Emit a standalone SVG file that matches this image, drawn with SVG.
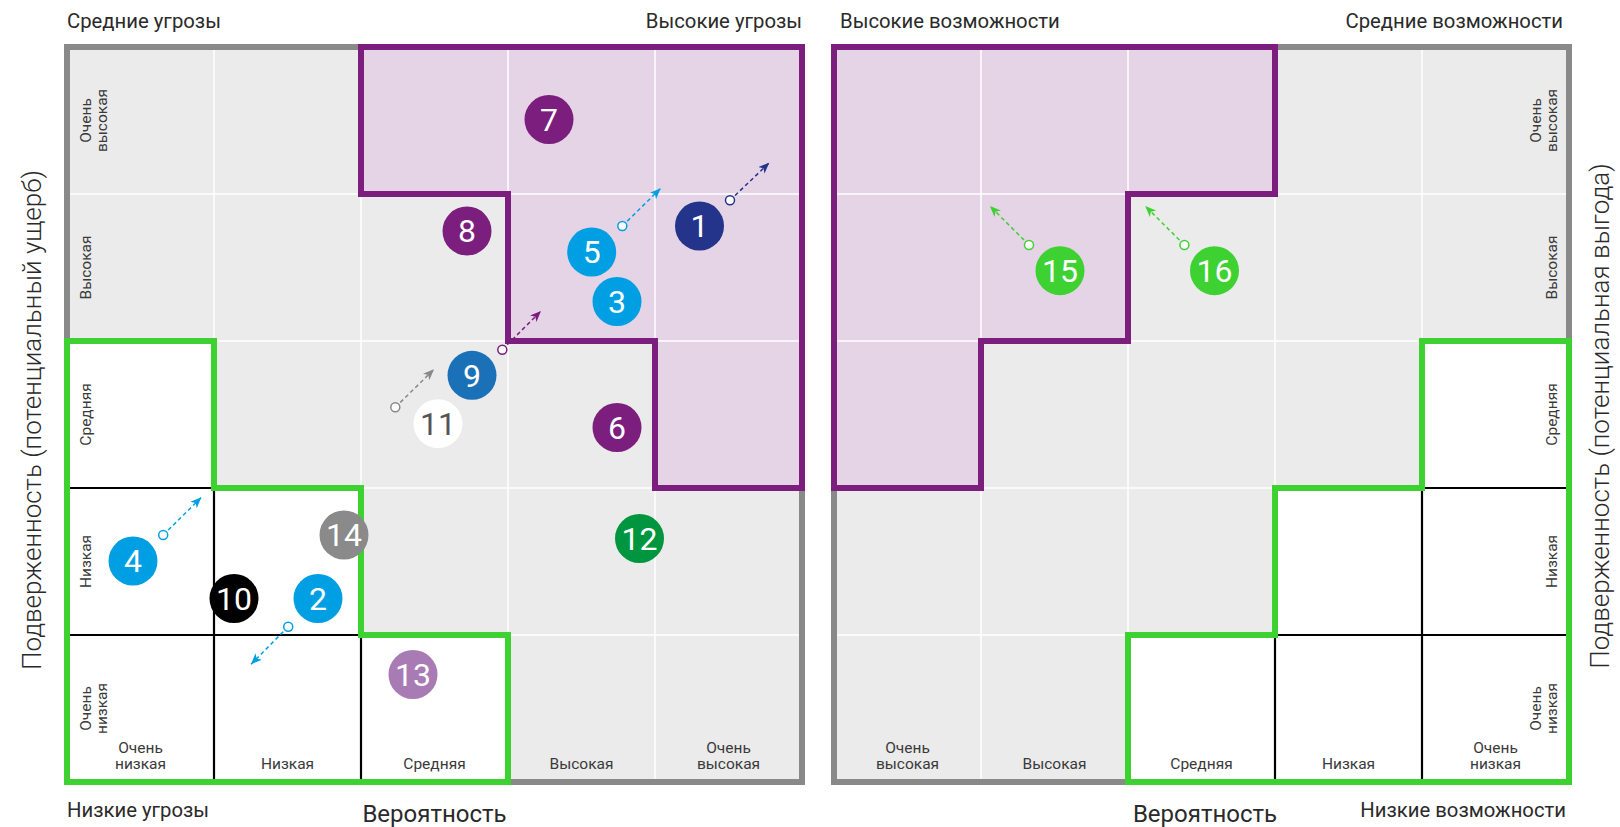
<svg xmlns="http://www.w3.org/2000/svg" width="1620" height="827" viewBox="0 0 1620 827">
<style>
text{font-family:Roboto,"Liberation Sans",sans-serif}
.cell{font-size:15.5px;fill:#3a3a3a}
.mid{text-anchor:middle}
.end{text-anchor:end}
.corner{font-size:20.3px;fill:#2a2a2a}
.axis{font-size:24px;fill:#2a2a2a}
.vaxis{font-size:26px;fill:#2a2a2a;font-weight:300}
.bg{fill:#ebebeb}
.pfill{fill:#e5d3e6}
.wl{stroke:#ffffff;stroke-width:1.5;fill:none}
.bl{stroke:#000;stroke-width:2.2;fill:none}
.gb{fill:none;stroke:#898989;stroke-width:6}
.pb{fill:none;stroke:#7b1e7e;stroke-width:6}
.grb{fill:none;stroke:#3ed132;stroke-width:6}
.num{font-size:32px;fill:#fff;text-anchor:middle}
.dash{stroke-width:1.5;stroke-dasharray:4 3;fill:none}
.oc{fill:#fff;stroke-width:1.5}
</style>
<defs>
<marker id="aCyan" markerWidth="12" markerHeight="10" refX="11" refY="4.5" orient="auto" markerUnits="userSpaceOnUse"><path d="M0,0 L11,4.5 L0,9 L3,4.5 Z" fill="#009fe3"/></marker>
<marker id="aNavy" markerWidth="12" markerHeight="10" refX="11" refY="4.5" orient="auto" markerUnits="userSpaceOnUse"><path d="M0,0 L11,4.5 L0,9 L3,4.5 Z" fill="#24348a"/></marker>
<marker id="aPurple" markerWidth="12" markerHeight="10" refX="11" refY="4.5" orient="auto" markerUnits="userSpaceOnUse"><path d="M0,0 L11,4.5 L0,9 L3,4.5 Z" fill="#7b1e7e"/></marker>
<marker id="aGray" markerWidth="12" markerHeight="10" refX="11" refY="4.5" orient="auto" markerUnits="userSpaceOnUse"><path d="M0,0 L11,4.5 L0,9 L3,4.5 Z" fill="#888888"/></marker>
<marker id="aGreen" markerWidth="12" markerHeight="10" refX="11" refY="4.5" orient="auto" markerUnits="userSpaceOnUse"><path d="M0,0 L11,4.5 L0,9 L3,4.5 Z" fill="#3ed132"/></marker>
</defs>
<rect width="1620" height="827" fill="#ffffff"/>

<!-- LEFT GRID -->
<g id="grid-threats">
<rect class="bg" x="67" y="47" width="735" height="735"/>
<polygon class="pfill" points="361,47 802,47 802,488 655,488 655,341 508,341 508,194 361,194"/>
<path class="wl" d="M214,47V782M361,47V782M508,47V782M655,47V782M67,194H802M67,341H802M67,488H802M67,635H802"/>
<polygon fill="#ffffff" points="67,341 214,341 214,488 361,488 361,635 508,635 508,782 67,782"/>
<path class="bl" d="M67,488H214M67,635H361M214,488V782M361,635V782"/>
<rect class="gb" x="67" y="47" width="735" height="735"/>
<polygon class="pb" points="361,47 802,47 802,488 655,488 655,341 508,341 508,194 361,194"/>
<polygon class="grb" points="67,341 214,341 214,488 361,488 361,635 508,635 508,782 67,782"/>
</g>

<!-- RIGHT GRID -->
<g id="grid-opportunities">
<rect class="bg" x="834" y="47" width="735" height="735"/>
<polygon class="pfill" points="834,47 1275,47 1275,194 1128,194 1128,341 981,341 981,488 834,488"/>
<path class="wl" d="M981,47V782M1128,47V782M1275,47V782M1422,47V782M834,194H1569M834,341H1569M834,488H1569M834,635H1569"/>
<polygon fill="#ffffff" points="1569,341 1422,341 1422,488 1275,488 1275,635 1128,635 1128,782 1569,782"/>
<path class="bl" d="M1422,488H1569M1275,635H1569M1422,488V782M1275,635V782"/>
<rect class="gb" x="834" y="47" width="735" height="735"/>
<polygon class="pb" points="834,47 1275,47 1275,194 1128,194 1128,341 981,341 981,488 834,488"/>
<polygon class="grb" points="1569,341 1422,341 1422,488 1275,488 1275,635 1128,635 1128,782 1569,782"/>
</g>

<!-- LABELS -->
<g id="labels">
<text class="corner" x="67" y="27.5">Средние угрозы</text>
<text class="corner end" x="802" y="27.5">Высокие угрозы</text>
<text class="corner" x="840" y="27.5">Высокие возможности</text>
<text class="corner end" x="1563" y="27.5">Средние возможности</text>
<text class="corner" x="67" y="817">Низкие угрозы</text>
<text class="corner end" x="1566" y="817">Низкие возможности</text>
<text class="axis mid" x="434.5" y="822">Вероятность</text>
<text class="axis mid" x="1205" y="822">Вероятность</text>
<text class="vaxis mid" transform="translate(41,420) rotate(-90)">Подверженность (потенциальный ущерб)</text>
<text class="vaxis mid" transform="translate(1609,416) rotate(-90)">Подверженность (потенциальная выгода)</text>

<!-- left row labels -->
<text class="cell mid" transform="translate(91,120.5) rotate(-90)"><tspan x="0" y="0">Очень</tspan><tspan x="0" y="16">высокая</tspan></text>
<text class="cell mid" transform="translate(91,267.5) rotate(-90)">Высокая</text>
<text class="cell mid" transform="translate(91,414.5) rotate(-90)">Средняя</text>
<text class="cell mid" transform="translate(91,561.5) rotate(-90)">Низкая</text>
<text class="cell mid" transform="translate(91,708.5) rotate(-90)"><tspan x="0" y="0">Очень</tspan><tspan x="0" y="16">низкая</tspan></text>
<!-- left column labels -->
<text class="cell mid"><tspan x="140.5" y="753">Очень</tspan><tspan x="140.5" y="769">низкая</tspan></text>
<text class="cell mid" x="287.5" y="769">Низкая</text>
<text class="cell mid" x="434.5" y="769">Средняя</text>
<text class="cell mid" x="581.5" y="769">Высокая</text>
<text class="cell mid"><tspan x="728.5" y="753">Очень</tspan><tspan x="728.5" y="769">высокая</tspan></text>

<!-- right row labels -->
<text class="cell mid" transform="translate(1541,120.5) rotate(-90)"><tspan x="0" y="0">Очень</tspan><tspan x="0" y="16">высокая</tspan></text>
<text class="cell mid" transform="translate(1557,267.5) rotate(-90)">Высокая</text>
<text class="cell mid" transform="translate(1557,414.5) rotate(-90)">Средняя</text>
<text class="cell mid" transform="translate(1557,561.5) rotate(-90)">Низкая</text>
<text class="cell mid" transform="translate(1541,708.5) rotate(-90)"><tspan x="0" y="0">Очень</tspan><tspan x="0" y="16">низкая</tspan></text>
<!-- right column labels -->
<text class="cell mid"><tspan x="907.5" y="753">Очень</tspan><tspan x="907.5" y="769">высокая</tspan></text>
<text class="cell mid" x="1054.5" y="769">Высокая</text>
<text class="cell mid" x="1201.5" y="769">Средняя</text>
<text class="cell mid" x="1348.5" y="769">Низкая</text>
<text class="cell mid"><tspan x="1495.5" y="753">Очень</tspan><tspan x="1495.5" y="769">низкая</tspan></text>
</g>

<!-- CONNECTORS -->
<g id="connectors">
<line class="dash" stroke="#009fe3" x1="622.3" y1="226" x2="660.7" y2="188.3" marker-end="url(#aCyan)"/>
<circle class="oc" stroke="#009fe3" cx="622.3" cy="226" r="4.5"/>
<line class="dash" stroke="#24348a" x1="730" y1="200.3" x2="769.3" y2="162.7" marker-end="url(#aNavy)"/>
<circle class="oc" stroke="#24348a" cx="730" cy="200.3" r="4.5"/>
<line class="dash" stroke="#7b1e7e" x1="502.3" y1="349.7" x2="541" y2="311" marker-end="url(#aPurple)"/>
<circle class="oc" stroke="#7b1e7e" cx="502.3" cy="349.7" r="4.5"/>
<line class="dash" stroke="#888888" x1="395.3" y1="407.3" x2="434" y2="369.3" marker-end="url(#aGray)"/>
<circle class="oc" stroke="#888888" cx="395.3" cy="407.3" r="4.5"/>
<line class="dash" stroke="#009fe3" x1="163.2" y1="535" x2="201.4" y2="497.3" marker-end="url(#aCyan)"/>
<circle class="oc" stroke="#009fe3" cx="163.2" cy="535" r="4.5"/>
<line class="dash" stroke="#009fe3" x1="288.2" y1="626.7" x2="251" y2="664.3" marker-end="url(#aCyan)"/>
<circle class="oc" stroke="#009fe3" cx="288.2" cy="626.7" r="4.5"/>
<line class="dash" stroke="#3ed132" x1="1029" y1="245" x2="989.9" y2="206" marker-end="url(#aGreen)"/>
<circle class="oc" stroke="#3ed132" cx="1029" cy="245" r="4.5"/>
<line class="dash" stroke="#3ed132" x1="1184.4" y1="245" x2="1145.2" y2="206" marker-end="url(#aGreen)"/>
<circle class="oc" stroke="#3ed132" cx="1184.4" cy="245" r="4.5"/>
</g>

<!-- NODES -->
<g id="n1"><circle cx="699.5" cy="226" r="24.5" fill="#24348a"/><text class="num" x="699.5" y="237.4">1</text></g>
<g id="n2"><circle cx="318" cy="598.5" r="24.5" fill="#009fe3"/><text class="num" x="318" y="609.9">2</text></g>
<g id="n3"><circle cx="617" cy="301.5" r="24.5" fill="#009fe3"/><text class="num" x="617" y="312.9">3</text></g>
<g id="n4"><circle cx="133" cy="561" r="24.5" fill="#009fe3"/><text class="num" x="133" y="572.4">4</text></g>
<g id="n5"><circle cx="591.7" cy="252" r="24.5" fill="#009fe3"/><text class="num" x="591.7" y="263.4">5</text></g>
<g id="n6"><circle cx="617" cy="427.5" r="24.5" fill="#7b1e7e"/><text class="num" x="617" y="438.9">6</text></g>
<g id="n7"><circle cx="549" cy="119.5" r="24.5" fill="#7b1e7e"/><text class="num" x="549" y="130.9">7</text></g>
<g id="n8"><circle cx="467" cy="231" r="24.5" fill="#7b1e7e"/><text class="num" x="467" y="242.4">8</text></g>
<g id="n9"><circle cx="472" cy="375.3" r="24.5" fill="#1b71b8"/><text class="num" x="472" y="386.7">9</text></g>
<g id="n10"><circle cx="234" cy="598.5" r="24.5" fill="#000000"/><text class="num" x="234" y="609.9">10</text></g>
<g id="n11"><circle cx="438" cy="423.7" r="24.5" fill="#ffffff"/><text class="num" x="438" y="435.1" style="fill:#555555">11</text></g>
<g id="n12"><circle cx="639.5" cy="538.5" r="24.5" fill="#00963f"/><text class="num" x="639.5" y="549.9">12</text></g>
<g id="n13"><circle cx="413" cy="674.5" r="24.5" fill="#a97bb5"/><text class="num" x="413" y="685.9">13</text></g>
<g id="n14"><circle cx="344" cy="535" r="24.5" fill="#8a8a8a"/><text class="num" x="344" y="546.4">14</text></g>
<g id="n15"><circle cx="1060" cy="270.7" r="24.5" fill="#3ed132"/><text class="num" x="1060" y="282.1">15</text></g>
<g id="n16"><circle cx="1214.5" cy="270.7" r="24.5" fill="#3ed132"/><text class="num" x="1214.5" y="282.1">16</text></g>
</svg>
